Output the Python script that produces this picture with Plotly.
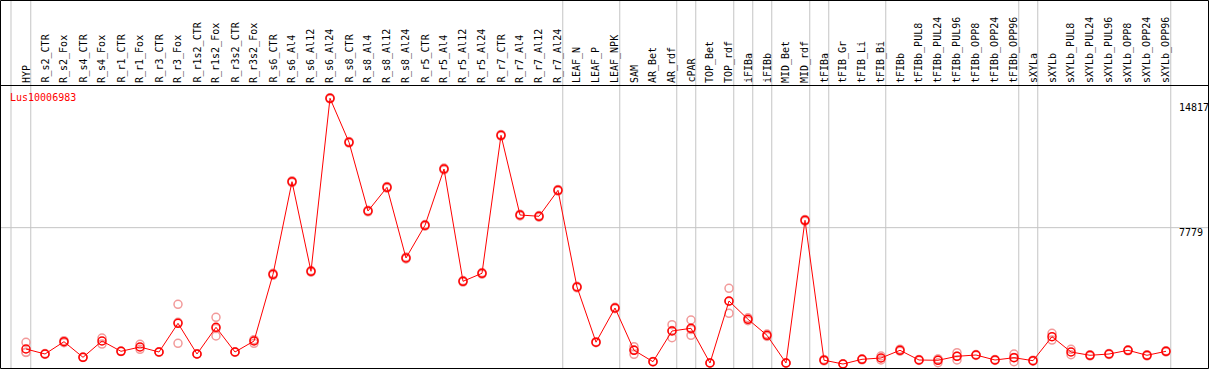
import plotly.graph_objects as go

title = "Lus10006983"
categories = ["HYP", "R_s2_CTR", "R_s2_Fox", "R_s4_CTR", "R_s4_Fox", "R_r1_CTR", "R_r1_Fox",
              "R_r3_CTR", "R_r3_Fox", "R_r1s2_CTR", "R_r1s2_Fox", "R_r3s2_CTR", "R_r3s2_Fox",
              "R_s6_CTR", "R_s6_Al4", "R_s6_Al12", "R_s6_Al24", "R_s8_CTR", "R_s8_Al4", "R_s8_Al12",
              "R_s8_Al24", "R_r5_CTR", "R_r5_Al4", "R_r5_Al12", "R_r5_Al24", "R_r7_CTR", "R_r7_Al4",
              "R_r7_Al12", "R_r7_Al24", "LEAF_N", "LEAF_P", "LEAF_NPK", "SAM", "AR_Bet", "AR_rdf",
              "cPAR", "TOP_Bet", "TOP_rdf", "iFIBa", "iFIBb", "MID_Bet", "MID_rdf", "tFIBa",
              "tFIB_Gr", "tFIB_Li", "tFIB_Bi", "tFIBb", "tFIBb_PUL8", "tFIBb_PUL24", "tFIBb_PUL96",
              "tFIBb_OPP8", "tFIBb_OPP24", "tFIBb_OPP96", "sXYLa", "sXYLb", "sXYLb_PUL8",
              "sXYLb_PUL24", "sXYLb_PUL96", "sXYLb_OPP8", "sXYLb_OPP24", "sXYLb_OPP96"]

means = [1180, 908, 1577, 729, 1615, 1055, 1289,
         1017, 2578, 908, 2361, 1017, 1615,
         5243, 10280, 5406, 14817, 12423, 8686, 9975,
         6130, 7908, 10970, 4862, 5298, 12803, 8469,
         8398, 9812, 4552, 1550, 3410, 1110, 490, 2159,
         2306, 419, 3791, 2796, 1925, 419, 8180, 571,
         364, 620, 691, 1110, 582, 566, 783,
         854, 582, 707, 544, 1849, 1017,
         838, 908, 1110, 838, 1055]

replicates = [[1545, 1001, 995], [930, 890], [1632, 1523], [740, 718], [1779, 1450], [1070, 1040], [1436, 1164],
              [1030, 1000], [3611, 1490, 2633], [920, 895], [2904, 1887, 2292], [1030, 1000], [1686, 1490, 1669],
              [5300, 5190], [10330, 10230], [5450, 5360], [14850, 14780], [12470, 12380], [8730, 8640], [10020, 9930],
              [6180, 6080], [7950, 7860], [11020, 10920], [4900, 4820], [5340, 5250], [12850, 12760], [8510, 8420],
              [8440, 8350], [9860, 9770], [4590, 4510], [1580, 1520], [3450, 3370], [1305, 892, 1133], [500, 480], [2502, 1795, 2180],
              [2758, 1925, 2235], [430, 410], [4482, 3122, 3769], [2880, 2720], [1990, 1860], [430, 410], [8230, 8130], [610, 540],
              [372, 356], [650, 590], [800, 582], [1170, 1060], [610, 555], [435, 640, 623], [979, 582, 788],
              [880, 830], [610, 555], [908, 490, 723], [570, 520], [2034, 1664], [870, 1164],
              [870, 806], [940, 876], [1140, 1080], [870, 806], [1090, 1020]]

y_tick_values = [0, 7779, 14817]
# category index after which a grey separator is drawn
group_ends = [0, 28, 31, 34, 35, 37, 38, 39, 41, 42, 45, 52, 53, 60]

W, H = 1209, 370
X_RANGE = [-26 / 19, (W - 26) / 19]
Y_RANGE = [38, 20162]
FONT = "DejaVu Sans Mono"
RED = "#ff0000"


def py(p):
    return 1 - p / H


def px(p):
    return p / W


x_idx = list(range(len(categories)))
rx, ry = [], []
for i, reps in enumerate(replicates):
    for v in reps:
        rx.append(i)
        ry.append(v)

fig = go.Figure()
fig.add_trace(go.Scatter(x=rx, y=ry, mode="markers", hoverinfo="skip",
                         marker=dict(symbol="circle-open", size=8, color="#f29a9a",
                                     line=dict(width=1.5, color="#f29a9a"))))
fig.add_trace(go.Scatter(x=x_idx, y=means, mode="lines+markers",
                         line=dict(color=RED, width=1),
                         marker=dict(symbol="circle-open", size=8, color=RED,
                                     line=dict(width=1.5, color=RED))))

shapes = []
grey = "#c4c4c4"
sep_x = [-0.79] + [k + 0.25 for k in group_ends]
for sx in sep_x:
    shapes.append(dict(type="line", xref="x", yref="paper", x0=sx, x1=sx, y0=py(368), y1=py(0),
                       line=dict(color=grey, width=1), layer="below"))
shapes.append(dict(type="line", xref="paper", yref="y", x0=0, x1=1, y0=y_tick_values[1], y1=y_tick_values[1],
                   line=dict(color=grey, width=1), layer="below"))
shapes.append(dict(type="rect", xref="paper", yref="paper", x0=px(0.5), x1=px(1208.5), y0=py(368.5), y1=py(0.5),
                   line=dict(color="black", width=1)))
shapes.append(dict(type="line", xref="paper", yref="paper", x0=px(0.5), x1=px(1208.5), y0=py(85.5), y1=py(85.5),
                   line=dict(color="black", width=1)))

annotations = []
for i, c in enumerate(categories):
    annotations.append(dict(x=i, xref="x", y=py(84), yref="paper", text=c, textangle=-90,
                            xanchor="center", yanchor="bottom", showarrow=False,
                            font=dict(family=FONT, size=10, color="black"), borderpad=0))
annotations.append(dict(x=px(9), xref="paper", y=py(97), yref="paper", text=title, xanchor="left",
                        yanchor="middle", showarrow=False, font=dict(family=FONT, size=10, color=RED),
                        borderpad=0))
tick_shift = [8, -5, -9]
for v, s in zip(y_tick_values, tick_shift):
    annotations.append(dict(x=px(1177.5), xref="paper", y=v, yref="y", text=str(v), xanchor="left",
                            yanchor="middle", yshift=s, showarrow=False,
                            font=dict(family=FONT, size=10, color="black"), borderpad=0))

fig.update_layout(
    width=W, height=H, margin=dict(l=0, r=0, t=0, b=0),
    paper_bgcolor="white", plot_bgcolor="white", showlegend=False,
    xaxis=dict(range=X_RANGE, visible=False, showgrid=False, zeroline=False, fixedrange=True),
    yaxis=dict(range=Y_RANGE, visible=False, showgrid=False, zeroline=False, fixedrange=True),
    shapes=shapes, annotations=annotations,
)
fig.write_html("out.html", config={"displayModeBar": False},
               post_script="document.body.style.margin='0';document.body.style.padding='0';"
                           "document.body.style.overflow='hidden';")
